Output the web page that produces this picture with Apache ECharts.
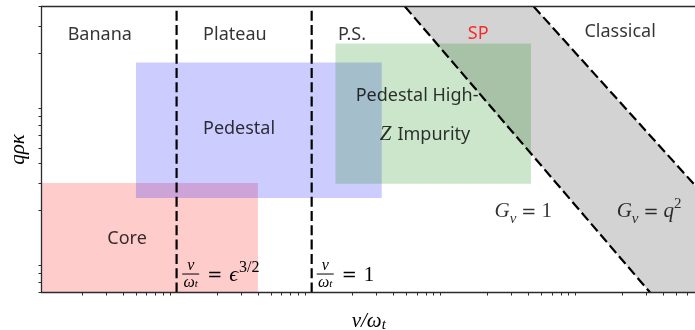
<!DOCTYPE html>
<html><head><meta charset="utf-8">
<script src="https://cdn.jsdelivr.net/npm/echarts@6/dist/echarts.min.js"></script>
<style>html,body{margin:0;padding:0;background:#fff}#c{width:695px;height:330px}</style>
</head><body><div id="c"></div>
<script>
// ---- data ----
const xRange = [0.01, 700];
const yRange = [0.6, 40];
const xMinorTicks = [0.02,0.03,0.04,0.05,0.06,0.07,0.08,0.09,
  0.2,0.3,0.4,0.5,0.6,0.7,0.8,0.9,
  2,3,4,5,6,7,8,9,
  20,30,40,50,60,70,80,90,
  200,300,400,500,600,700];
const yMinorTicks = [0.6,0.7,0.8,0.9,2,3,4,5,6,7,8,9,20,30,40];
const regimeBoundaries = [0.1, 1];           // nu/omega_t = eps^{3/2}, nu/omega_t = 1
const gNu1Line = [[4.9, 40], [320, 0.6]];    // G_nu = 1
const gNuQ2Line = [[44, 40], [700, 2.85]];   // G_nu = q^2
const spBand = [[4.9, 40], [44, 40], [700, 2.85], [700, 0.6], [320, 0.6]];
const boxNames = ['Core', 'Pedestal', 'Pedestal High-Z Impurity'];
const boxX = [[0.01, 0.4], [0.05, 3.3], [1.5, 42]];
const boxY = [[0.6, 3], [2.4, 17.6], [2.96, 23.2]];
const textLabels = ['Banana', 'Plateau', 'P.S.', 'SP', 'Classical', 'Pedestal', 'Pedestal High-', 'Z Impurity', 'Core', 'G1', 'Gq2'];
const textX = [0.027, 0.27, 1.99, 17.1, 192, 0.29, 6.03, 6.9, 0.043, 36.8, 315];
const textY = [26.3, 26.3, 26.3, 26.7, 27.5, 6.63, 10.8, 6.07, 1.32, 1.96, 1.96];
const fracX = [0.11, 1.09];
const fracY = [0.787, 0.787];
const fracRhs = ['eps', 'one'];

// ---- chart ----
const chart = echarts.init(document.getElementById('c'));
const axisColor = '#2b2b2b';
const sans = 'Noto Sans';
const serif = 'Liberation Serif';
const boxFills = ['rgba(255,0,0,0.2)', 'rgba(0,0,255,0.2)', 'rgba(0,128,0,0.2)'];
const dash = [10, 4.3];

const mathRich = {
  n: {fontFamily: serif, fontSize: 21, color: '#000', lineHeight: 30},
  eq: {fontFamily: 'DejaVu Sans', fontSize: 18, color: '#000', lineHeight: 30, padding: [0, 5, 0, 5]},
  i: {fontFamily: serif, fontStyle: 'italic', fontSize: 21, color: '#000', lineHeight: 30},
  zi: {fontFamily: serif, fontStyle: 'italic', fontSize: 21, color: '#000', lineHeight: 30, padding: [0, 6, 0, 0]},
  sub: {fontFamily: serif, fontStyle: 'italic', fontSize: 15, color: '#000', lineHeight: 19, verticalAlign: 'bottom'},
  sup: {fontFamily: serif, fontSize: 15, color: '#000', lineHeight: 20, verticalAlign: 'top'},
  s: {fontFamily: sans, fontSize: 18, color: '#000', lineHeight: 30}
};
const nameRich = {
  i: {fontFamily: serif, fontStyle: 'italic', fontSize: 21, color: '#000', lineHeight: 22},
  sub: {fontFamily: serif, fontStyle: 'italic', fontSize: 15, color: '#000', lineHeight: 14, verticalAlign: 'bottom'}
};

function labelFormatter(name) {
  if (name === 'Z Impurity') return '{zi|Z}{s|Impurity}';
  if (name === 'G1') return '{i|G}{sub|ν}{eq|=}{n|1}';
  if (name === 'Gq2') return '{i|G}{sub|ν}{eq|=}{i|q}{sup|2}';
  return '{s|' + name + '}';
}

const textData = textLabels.map((t, i) => ({
  name: t,
  value: [textX[i], textY[i]],
  label: t === 'SP' ? {rich: Object.assign({}, mathRich, {s: Object.assign({}, mathRich.s, {color: '#ff0000'})})} : {}
}));

const option = {
  animation: false,
  grid: {left: 41.5, top: 6.5, width: 654.5, height: 286, outerBoundsMode: 'none', containLabel: false},
  xAxis: [{
    type: 'log', logBase: 10, min: xRange[0], max: xRange[1], z: 10,
    axisLine: {show: true, lineStyle: {color: axisColor, width: 1.3}},
    axisTick: {show: true, customValues: xMinorTicks, length: 3, lineStyle: {color: axisColor, width: 1}},
    axisLabel: {show: false}, splitLine: {show: false}, minorTick: {show: false},
    name: '{i|ν/ω}{sub|t}', nameLocation: 'middle', nameGap: 18,
    nameTextStyle: {rich: nameRich}
  }, {
    type: 'log', logBase: 10, min: xRange[0], max: xRange[1], position: 'top', z: 10,
    axisLine: {show: true, lineStyle: {color: axisColor, width: 1.3}},
    axisTick: {show: false}, axisLabel: {show: false}, splitLine: {show: false}
  }],
  yAxis: [{
    type: 'log', logBase: 10, min: yRange[0], max: yRange[1], z: 10,
    axisLine: {show: true, lineStyle: {color: axisColor, width: 1.3}},
    axisTick: {show: true, customValues: yMinorTicks, length: 3, lineStyle: {color: axisColor, width: 1}},
    axisLabel: {show: false}, splitLine: {show: false}, minorTick: {show: false},
    name: 'qρκ', nameLocation: 'middle', nameGap: 13, nameRotate: 90,
    nameTextStyle: {fontFamily: serif, fontStyle: 'italic', fontSize: 21, color: '#000'}
  }],
  series: [
    { // SP band
      type: 'custom', z: 1, clip: true,
      data: [spBand.flat()],
      encode: {x: [0, 2, 4, 6, 8], y: [1, 3, 5, 7, 9]},
      renderItem: (params, api) => {
        const pts = [];
        for (let k = 0; k < spBand.length; k++) pts.push(api.coord([api.value(2 * k), api.value(2 * k + 1)]));
        return {type: 'polygon', shape: {points: pts}, style: {fill: '#d3d3d3'}};
      }
    },
    { // regime boxes
      type: 'custom', z: 2, clip: true,
      data: boxNames.map((n, i) => [boxX[i][0], boxX[i][1], boxY[i][0], boxY[i][1], i]),
      encode: {x: [0, 1], y: [2, 3]},
      renderItem: (params, api) => {
        const a = api.coord([api.value(0), api.value(2)]);
        const b = api.coord([api.value(1), api.value(3)]);
        return {type: 'rect',
          shape: {x: Math.min(a[0], b[0]), y: Math.min(a[1], b[1]), width: Math.abs(b[0] - a[0]), height: Math.abs(b[1] - a[1])},
          style: {fill: boxFills[params.dataIndex]}};
      }
    },
    ...regimeBoundaries.map(v => ({
      type: 'line', z: 4, symbol: 'none', silent: true,
      data: [[v, yRange[0]], [v, yRange[1]]],
      lineStyle: {color: '#000', width: 2.2, type: dash}
    })),
    {type: 'line', z: 4, symbol: 'none', data: gNu1Line, lineStyle: {color: '#000', width: 2.2, type: dash}},
    {type: 'line', z: 4, symbol: 'none', data: gNuQ2Line, lineStyle: {color: '#000', width: 2.2, type: dash}},
    { // text annotations
      type: 'scatter', z: 6, symbolSize: 0, silent: true,
      data: textData,
      label: {show: true, position: 'inside', color: '#000', textBorderWidth: 0,
        formatter: p => labelFormatter(p.name), rich: mathRich}
    },
    { // fraction annotations
      type: 'custom', z: 6, clip: false,
      data: fracX.map((x, i) => [x, fracY[i], i]),
      encode: {x: 0, y: 1},
      renderItem: (params, api) => {
        const p = api.coord([api.value(0), api.value(1)]);
        const i = params.dataIndex;
        const x0 = p[0], y0 = p[1];
        const w = 17;
        const rhs = fracRhs[i] === 'eps'
          ? '{eq|=}{i|ϵ}{sup|3/2}'
          : '{eq|=}{n|1}';
        return {type: 'group', children: [
          {type: 'line', shape: {x1: x0, y1: y0, x2: x0 + w, y2: y0}, style: {stroke: '#000', lineWidth: 1}},
          {type: 'text', x: x0 + w / 2, y: y0 - 0.5, style: {text: 'ν', font: 'italic 16px "' + serif + '"', fill: '#000', align: 'center', verticalAlign: 'bottom'}},
          {type: 'text', x: x0 + w / 2, y: y0 + 1, style: {text: '{a|ω}{b|t}', fill: '#000', align: 'center', verticalAlign: 'top',
            rich: {a: {font: 'italic 16px "' + serif + '"', lineHeight: 15}, b: {font: 'italic 11px "' + serif + '"', lineHeight: 12, verticalAlign: 'bottom'}}}},
          {type: 'text', x: x0 + w, y: y0 + 1, style: {text: rhs, align: 'left', verticalAlign: 'middle',
            rich: {eq: {font: '18px "DejaVu Sans"', fill: '#000', lineHeight: 30, padding: [0, 7, 0, 8]},
                   n: {font: '21px "' + serif + '"', fill: '#000', lineHeight: 30},
                   i: {font: 'italic 22px "' + serif + '"', fill: '#000', lineHeight: 30},
                   sup: {font: '16px "' + serif + '"', fill: '#000', lineHeight: 18, verticalAlign: 'top', padding: [0, 0, 0, 1]}}}}
        ]};
      }
    }
  ]
};
chart.setOption(option);
</script></body></html>
